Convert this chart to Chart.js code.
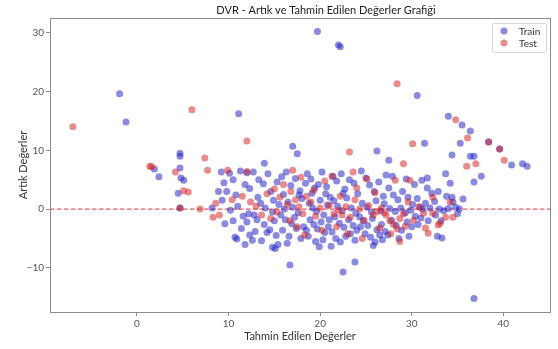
<!DOCTYPE html>
<html>
<head>
<meta charset="utf-8">
<script src="https://cdn.jsdelivr.net/npm/chart.js@4"></script>
<style>
  html, body { margin: 0; padding: 0; background: #fff; }
  #wrap { width: 558px; height: 349px; }
</style>
</head>
<body>
<div id="wrap"><canvas id="grafica" width="558" height="349"></canvas></div>
<script>
// ==========================
// DATOS
// ==========================
const titulo = "DVR - Artık ve Tahmin Edilen Değerler Grafiği";
const ejeX = "Tahmin Edilen Değerler";
const ejeY = "Artık Değerler";
const series = ["Train", "Test"];
const ticksX = [0, 10, 20, 30, 40];
const ticksY = [-10, 0, 10, 20, 30];

// Train: tahmin (x) y artık (y)
const trainX = [
  -1.9, -1.2, 19.7, 22.0, 22.2, 11.1, 17.0, 17.5, 26.2, 13.9, 30.6, 34.0, 35.5, 36.4, 35.3, 31.4, 38.4, 39.6, 34.4, 36.4,
  36.8, 27.5, 40.9, 42.1, 42.6, 4.7, 4.7, 1.9, 2.4, 4.7, 4.8, 5.1, 4.5, 4.7, 8.2, 8.9, 36.8, 33.3, 33.7, 36.8,
  37.6, 35.6, 34.2, 34.4, 34.5, 32.8, 31.7, 32.2, 31.1, 31.7, 29.4, 16.7, 22.5, 23.8, 10.7, 10.9, 12.6, 14.8, 15.1,
  9.2, 10.1, 11.3, 12.0, 12.7, 9.5, 10.5, 11.8, 9.8, 10.8, 12.3, 9.3, 10.2, 11.0, 11.6, 12.2, 9.6, 10.5, 11.4, 12.0, 12.8, 13.2,
  13.3, 13.8, 14.3, 14.6, 13.5, 14.0, 14.8, 13.1, 13.9, 14.5, 14.2, 15.0, 14.9, 12.9, 15.3, 15.5, 15.2, 13.6, 11.8, 12.3,
  15.8, 16.3, 16.8, 17.3, 17.8, 16.0, 16.5, 17.0, 17.6, 15.7, 16.2, 16.9, 17.4, 15.9, 16.6, 17.9, 17.2, 18.0, 16.4, 15.4, 18.2, 17.7, 16.1, 18.4,
  18.6, 19.0, 19.4, 19.8, 20.2, 20.6, 18.8, 19.2, 19.6, 20.0, 20.4, 20.8, 18.9, 19.3, 19.7, 20.1, 20.5, 20.9, 18.7, 19.5, 20.3, 21.0, 21.1, 19.9, 18.5, 20.7, 19.1,
  21.4, 21.8, 22.3, 22.7, 23.2, 23.7, 21.5, 21.9, 22.4, 22.9, 23.4, 23.9, 21.6, 22.1, 22.6, 23.1, 23.6, 24.0, 21.3, 21.7, 22.2, 22.8, 23.3, 23.8, 21.2, 24.1, 22.5, 24.3,
  24.5, 25.0, 25.4, 25.9, 26.4, 26.9, 24.6, 25.1, 25.6, 26.1, 26.6, 27.0, 24.7, 25.2, 25.7, 26.2, 26.7, 24.9, 25.5, 26.0, 26.5, 27.1, 24.4, 27.2, 25.8,
  27.5, 28.0, 28.5, 29.0, 29.6, 30.1, 30.6, 27.6, 28.2, 28.8, 29.3, 29.9, 30.4, 27.8, 28.3, 28.9, 29.5, 30.0, 30.7, 27.4, 28.6, 29.7, 30.9, 31.0, 27.9, 30.3, 31.2, 26.8,
  31.5, 32.0, 32.5, 33.0, 33.5, 34.0, 32.6, 33.2, 34.8, 35.2, 31.8, 35.0, 32.9, 33.8
];
const trainY = [
  19.6, 14.8, 30.2, 27.9, 27.6, 16.2, 10.7, 9.4, 9.9, 7.8, 19.3, 15.8, 14.3, 13.3, 11.2, 11.2, 11.4, 10.2, 9.2, 9.0,
  9.0, 8.3, 7.5, 7.7, 7.3, 9.5, 9.0, 6.8, 5.5, 7.0, 5.3, 4.9, 2.7, 0.2, 0.2, 3.0, -15.2, -4.9, 6.0, 4.6,
  5.6, 1.7, 4.4, 2.0, 1.2, -4.6, 3.6, 2.7, 4.9, 5.3, 5.1, -9.5, -10.7, -9.0, -4.8, -5.1, -5.3, -6.5, -6.7,
  6.3, 6.1, 6.5, 6.2, 6.3, 4.5, 5.0, 4.2, 3.0, 2.4, 3.5, 1.5, -0.2, 0.5, -1.2, -0.8, -2.5, -2.0, -3.3, -2.2, -1.0, 2.0,
  5.0, 4.3, 6.0, 3.0, 1.0, 0.2, -0.5, -1.8, -2.6, -3.5, -4.0, -2.0, 1.5, -3.8, 4.6, 0.8, -4.5, -5.4, -6.0, -4.4,
  5.5, 6.3, 4.0, 5.2, 3.1, 2.5, 1.2, 0.3, -0.6, -1.0, -1.8, -2.5, -3.3, -3.6, -4.6, -5.0, -1.4, 1.8, -5.8, -6.0, -3.0, 2.4, 0.0, 4.4,
  6.0, 5.1, 3.6, 4.2, 6.3, 2.6, 1.0, 0.2, -0.4, 1.5, -1.0, 0.7, -1.8, -2.6, -3.4, -2.2, -4.0, -3.0, -4.6, -5.5, -5.2, -1.8, 2.0, -6.4, -3.6, 3.8, 2.7,
  5.6, 4.8, 6.0, 3.4, 5.0, 4.4, 1.4, 0.5, -0.3, 1.9, 0.2, -0.7, -1.3, -2.4, -3.1, -1.8, -2.8, -3.6, -3.9, -5.0, -5.6, -4.6, -4.2, -5.3, -6.3, 2.6, 2.7, -1.3,
  6.5, 5.3, 4.1, 3.0, 4.6, 2.2, 1.0, 0.3, -0.5, 1.4, -0.3, 0.9, -2.0, -2.8, -1.6, -3.5, -2.6, -4.2, -4.8, -5.6, -4.4, -3.8, -3.0, 5.8, -6.2,
  3.6, 2.4, 1.6, 3.0, 2.0, 0.8, 1.8, 0.1, -0.4, 0.2, -0.6, -0.2, -1.2, -1.9, -2.8, -3.6, -2.2, -3.0, -2.6, -4.4, -5.0, -4.6, 0.3, -1.5, 5.6, 4.2, 0.0, -5.2,
  1.0, 0.2, 1.3, 0.0, -0.3, 0.1, -1.0, -2.0, 0.3, 0.0, -2.0, -0.8, 3.0, 2.2
];

// Test: tahmin (x) y artık (y)
const testX = [
  -7.0, 6.0, 7.4, 1.4, 12.0, 23.2, 28.4, 34.8, 36.1, 30.1, 38.4, 39.6, 40.1, 29.1, 36.0, 37.0, 1.6, 4.2, 5.1, 5.6,
  7.7, 4.7, 6.9, 8.3, 8.6, 34.2, 34.5, 32.9, 33.1, 33.7, 31.5, 31.8, 31.3, 32.3, 32.3, 28.2, 29.8, 28.7,
  9.9, 12.0, 17.0, 10.4, 9.0, 11.5, 13.0, 14.2, 15.0, 15.6, 16.0, 16.4, 16.8, 17.3, 17.7, 18.1, 18.5, 15.3, 14.6, 16.7,
  17.5, 18.3, 19.0, 19.5, 20.0, 20.5, 21.0, 21.5, 22.0, 22.4, 22.8, 23.3, 22.2, 23.8, 24.3, 24.8, 25.3, 25.8, 26.2, 26.7,
  27.2, 27.0, 27.6, 28.0, 28.4, 28.7, 29.1, 29.6, 30.2, 30.8, 26.0, 24.0, 21.8, 20.2, 23.0, 26.5, 19.3, 24.6, 13.6, 12.4,
  25.1, 21.3, 23.6, 27.7, 29.3, 17.9
];
const testY = [
  14.0, 16.9, 8.7, 7.3, 11.6, 9.7, 21.3, 15.2, 12.1, 11.1, 11.4, 10.2, 8.3, 7.7, 7.3, 7.7, 7.2, 6.3, 3.1, 2.9,
  6.6, 0.2, 0.0, -1.4, 1.0, 1.2, -1.4, -2.7, -2.4, -1.4, -3.2, -4.1, -0.7, -0.7, 2.0, 4.9, 4.9, -5.5,
  6.6, 6.4, 6.6, 1.6, -1.0, 2.2, 0.5, 2.6, 3.4, 2.0, 4.2, 0.8, 3.0, 1.6, 0.4, -0.8, 2.2, -0.5, -1.6, -2.0,
  -3.0, -4.4, 1.2, -1.2, 0.2, 4.8, 0.6, -0.8, -0.2, -1.0, 0.4, -1.4, 2.2, 1.6, 0.0, -1.9, 0.6, -1.0, -0.4, 0.2,
  -1.0, -0.6, -2.0, -2.6, -3.4, -1.6, -0.8, 1.2, -1.9, 0.4, 2.8, 3.6, -3.0, -3.6, -4.2, -3.2, 3.2, -5.0, -1.0, 1.2,
  5.1, 5.6, 6.3, -4.2, -2.9, 5.4
];

const COLOR_TRAIN = 'rgba(30,30,200,0.52)';
const COLOR_TEST = 'rgba(215,30,30,0.52)';
const FUENTE = 'Lato, "Open Sans", sans-serif';

const aPuntos = (xs, ys) => xs.map((x, i) => ({ x: x, y: ys[i] }));

// ==========================
// PLUGINS
// ==========================

// marco + línea de cero + título + leyenda
const extras = {
    id: 'extras',
    beforeDatasetsDraw(chart) {
        const { ctx, chartArea: a, scales } = chart;
        const y0 = scales.y.getPixelForValue(0);
        ctx.save();
        ctx.strokeStyle = 'rgba(220,60,60,0.85)';
        ctx.lineWidth = 1.2;
        ctx.setLineDash([4.5, 2.5]);
        ctx.beginPath();
        ctx.moveTo(a.left, y0);
        ctx.lineTo(a.right, y0);
        ctx.stroke();
        ctx.restore();
    },
    afterDraw(chart) {
        const { ctx, chartArea: a } = chart;
        ctx.save();
        ctx.strokeStyle = '#8c8c8c';
        ctx.lineWidth = 1;
        ctx.strokeRect(a.left + 0.5, a.top + 0.5, a.right - a.left, a.bottom - a.top);

        // título
        ctx.fillStyle = '#222';
        ctx.font = '11px ' + FUENTE;
        ctx.textAlign = 'center';
        ctx.textBaseline = 'middle';
        ctx.fillText(titulo, 326, 10);

        // leyenda
        const bx = 492, by = 23, bw = 54, bh = 29;
        ctx.fillStyle = 'rgba(255,255,255,0.85)';
        ctx.strokeStyle = '#d4d4d4';
        ctx.beginPath();
        ctx.roundRect(bx + 0.5, by + 0.5, bw, bh, 2);
        ctx.fill();
        ctx.stroke();
        const colores = [COLOR_TRAIN, COLOR_TEST];
        ctx.font = '10px ' + FUENTE;
        ctx.textAlign = 'left';
        series.forEach((s, i) => {
            const cy = 31 + i * 12;
            ctx.fillStyle = colores[i];
            ctx.beginPath();
            ctx.arc(504, cy, 3.5, 0, Math.PI * 2);
            ctx.fill();
            ctx.fillStyle = '#333';
            ctx.fillText(s, 519, cy + 0.5);
        });
        ctx.restore();
    }
};

// ==========================
// GRÁFICA
// ==========================
const menos = v => (v < 0 ? '\u2212' + Math.abs(v) : String(v));
const fijarTicks = valores => s => { s.ticks = valores.map(v => ({ value: v })); };

const estiloEje = {
    border: { display: false },
    grid: { drawOnChartArea: false, drawTicks: true, tickLength: 4, color: '#8c8c8c' },
    ticks: {
        padding: 2,
        color: '#555',
        font: { family: FUENTE, size: 10 },
        callback: menos
    }
};

new Chart(document.getElementById('grafica'), {
    type: 'scatter',
    data: {
        datasets: [
            {
                label: series[0],
                data: aPuntos(trainX, trainY),
                backgroundColor: COLOR_TRAIN,
                borderWidth: 0,
                pointRadius: 3.5,
                order: 2
            },
            {
                label: series[1],
                data: aPuntos(testX, testY),
                backgroundColor: COLOR_TEST,
                borderWidth: 0,
                pointRadius: 3.5,
                order: 1
            }
        ]
    },
    options: {
        responsive: false,
        animation: false,
        layout: { padding: { top: 18, right: 8, left: 17, bottom: 6 } },
        plugins: {
            legend: { display: false },
            title: { display: false },
            tooltip: { enabled: false }
        },
        scales: {
            x: {
                ...estiloEje,
                type: 'linear',
                min: -9.5,
                max: 45.1,
                afterFit: s => { s.height = 31; },
                afterBuildTicks: fijarTicks(ticksX),
                title: {
                    display: true,
                    text: ejeX,
                    color: '#333',
                    padding: 0,
                    font: { family: FUENTE, size: 11 }
                }
            },
            y: {
                ...estiloEje,
                type: 'linear',
                min: -17.5,
                max: 32.5,
                afterFit: s => { s.width = 33; },
                afterBuildTicks: fijarTicks(ticksY),
                title: {
                    display: true,
                    text: ejeY,
                    color: '#333',
                    padding: 0,
                    font: { family: FUENTE, size: 11 }
                }
            }
        }
    },
    plugins: [extras]
});
</script>
</body>
</html>
